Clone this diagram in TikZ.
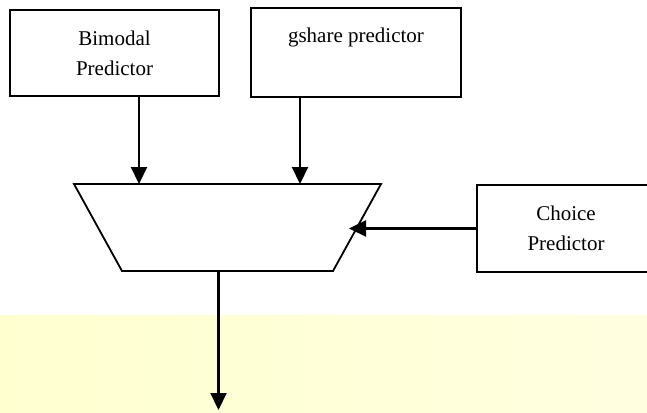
\documentclass[tikz,border=0pt]{standalone}
\usepackage{fontspec}
\setmainfont{Liberation Serif}
\usepackage{tikz}
\usetikzlibrary{calc,positioning,arrows.meta}

\begin{document}
\begin{tikzpicture}[x=1pt,y=-1pt,font=\fontsize{21}{30}\selectfont]

% =========================
% Color Definitions
% =========================
\definecolor{band1}{RGB}{255,255,208}
\definecolor{band2}{RGB}{255,255,224}
\colorlet{line1}{black}

% =========================
% Page & Background Band
% =========================
\useasboundingbox (0,0) rectangle (647,412);
\shade[left color=band1, right color=band2] (0,315) rectangle (647,412);

% =========================
% Styles
% =========================
\tikzset{
    predbox/.style={
        draw=line1,
        line width=1.8pt,
        fill=white,
        align=center,
        inner sep=4pt
    },
    arr/.style={
        line1,
        line width=2.2pt,
        -{Triangle[length=17pt,width=16pt]}
    }
}

% =========================
% Predictor Boxes
% =========================
\node[predbox, minimum width=209pt, minimum height=86pt] (bimodal) at (114.5,53)
    {Bimodal\\Predictor};
\node[predbox, minimum width=210pt, minimum height=89pt] (gshare) at (356,52.5)
    {gshare predictor\\\phantom{p}};
\node[predbox, minimum width=178pt, minimum height=87pt] (choice) at (566,228.5)
    {Choice\\Predictor};

% =========================
% Selector Geometry
% =========================
\coordinate (TL) at (74,184);
\coordinate (TR) at (381,184);
\coordinate (BR) at (333,271);
\coordinate (BL) at (122,271);

\draw[line1, line width=1.8pt, fill=white] (TL) -- (TR) -- (BR) -- (BL) -- cycle;

% Connection points on the selector
\coordinate (selR) at ($(TR)!0.5!(BR)+(-8,0)$);
\coordinate (selB) at (218.5,271);
\coordinate (out) at (218.5,410);

% =========================
% Connectors
% =========================
\draw[arr] ([xshift=24.5pt]bimodal.south) -- ([xshift=24.5pt]bimodal.south |- TL);
\draw[arr] ([xshift=-56pt]gshare.south) -- ([xshift=-56pt]gshare.south |- TR);
\draw[arr] (choice.west) -- (choice.west -| selR);
\draw[arr] (selB) -- (out);

\end{tikzpicture}
\end{document}
